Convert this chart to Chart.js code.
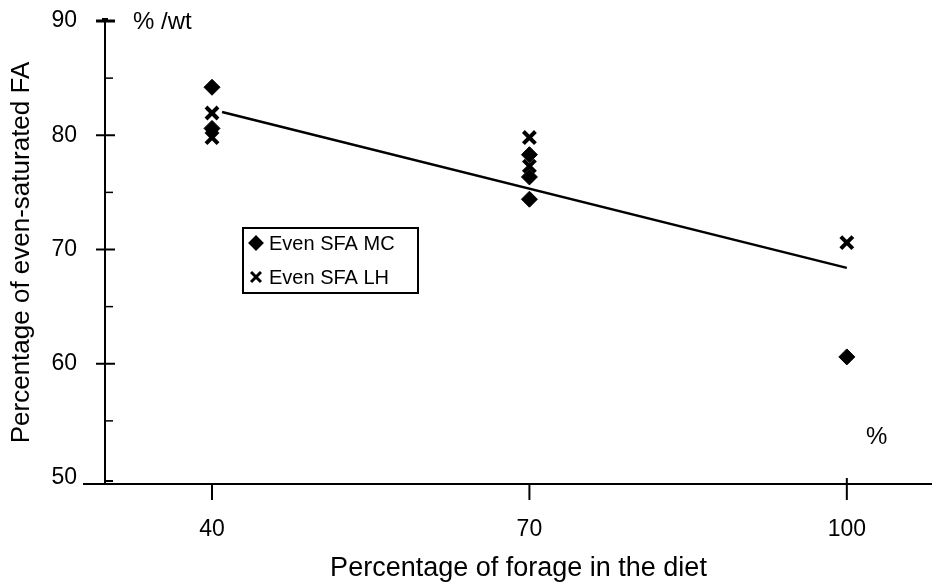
<!DOCTYPE html>
<html><head><meta charset="utf-8">
<script src="https://cdn.jsdelivr.net/npm/chart.js@4.4.0/dist/chart.umd.min.js"></script>
<style>html,body{margin:0;padding:0;background:#fff;}#wrap{width:932px;height:585px;}</style>
</head><body><div id="wrap"><canvas id="c" width="932" height="585"></canvas></div>
<script>
// ---- data ----
const xTicks = [40, 70, 100];
const yTicks = [50, 60, 70, 80, 90];
const yMinorTicks = [55, 65, 75, 85];
const mcX = [40, 40, 70, 70, 70, 100];
const mcY = [84.2, 80.6, 78.3, 76.35, 74.4, 60.6];
const lhX = [40, 40, 70, 70, 100];
const lhY = [81.95, 79.8, 79.8, 77.3, 70.6];
const trendX = [40.95, 100];
const trendY = [82.04, 68.39];
const mcLabel = 'Even SFA MC';
const lhLabel = 'Even SFA LH';
const xTitle = 'Percentage of forage in the diet';
const yTitle = 'Percentage of even-saturated FA';
const yUnit = '% /wt';
const xUnit = '%';

const FONT = "'Liberation Sans', Arial, sans-serif";
const pts = (xs, ys) => xs.map((x, i) => ({x: x, y: ys[i]}));

const decor = {
  id: 'decor',
  afterDraw(chart) {
    const ctx = chart.ctx, ca = chart.chartArea, xs = chart.scales.x, ys = chart.scales.y;
    const line = (x1, y1, x2, y2, w) => {
      ctx.beginPath(); ctx.lineWidth = w || 2; ctx.moveTo(x1, y1); ctx.lineTo(x2, y2); ctx.stroke();
    };
    ctx.save();
    ctx.strokeStyle = '#000'; ctx.fillStyle = '#000';
    // x axis extends left of the y axis
    line(83, ca.bottom, ca.left, ca.bottom);
    // y ticks
    yTicks.forEach(v => {
      const y = ys.getPixelForValue(v);
      if (v === 50) { line(ca.left, ca.bottom - 3, ca.left + 8, ca.bottom - 3); }
      else if (v === 90) { line(ca.left - 9, y, ca.left + 10, y, 3); ctx.fillRect(ca.left - 3, y - 3, 6, 4); }
      else { line(ca.left - 9, y, ca.left + 10, y); }
    });
    yMinorTicks.forEach(v => {
      const y = ys.getPixelForValue(v);
      line(ca.left, y, ca.left + 8, y, 1.5);
    });
    // x ticks
    xTicks.forEach(v => {
      const x = xs.getPixelForValue(v);
      if (v === 100) line(x, ca.bottom - 6, x, ca.bottom + 16);
      else line(x, ca.bottom, x, ca.bottom + 16);
    });
    // legend
    ctx.lineWidth = 2;
    ctx.strokeRect(243, 228, 175, 65);
    Chart.helpers.drawPoint(ctx, {pointStyle: 'rectRot', radius: 6.5, borderWidth: 1}, 256, 243);
    ctx.lineWidth = 3;
    Chart.helpers.drawPoint(ctx, {pointStyle: 'crossRot', radius: 7, borderWidth: 3}, 256, 277);
    ctx.font = '20px ' + FONT;
    ctx.textAlign = 'left'; ctx.textBaseline = 'middle';
    ctx.fillText(mcLabel, 269, 244);
    ctx.fillText(lhLabel, 269, 278);
    // unit labels
    ctx.font = '24px ' + FONT;
    ctx.fillText(yUnit, 133, 22);
    ctx.fillText(xUnit, 866, 437);
    ctx.restore();
  }
};

new Chart(document.getElementById('c'), {
  type: 'scatter',
  data: {
    datasets: [
      {type: 'line', label: 'trend', data: pts(trendX, trendY), borderColor: '#000', borderWidth: 2.5,
       pointRadius: 0, fill: false, order: 0},
      {label: lhLabel, data: pts(lhX, lhY), pointStyle: 'crossRot', pointRadius: 8.5,
       borderColor: '#000', backgroundColor: '#000', borderWidth: 4, order: 1},
      {label: mcLabel, data: pts(mcX, mcY), pointStyle: 'rectRot', pointRadius: 8,
       borderColor: '#000', backgroundColor: '#000', borderWidth: 1, order: 2}
    ]
  },
  options: {
    responsive: false,
    animation: false,
    devicePixelRatio: 1,
    layout: {autoPadding: false, padding: {top: 21, left: 0, right: 0, bottom: 0}},
    plugins: {legend: {display: false}, tooltip: {enabled: false}},
    scales: {
      x: {
        type: 'linear', min: 29.887, max: 108.05,
        afterBuildTicks: s => { s.ticks = xTicks.map(v => ({value: v})); },
        afterFit: s => { s.height = 101; s.paddingLeft = 0; s.paddingRight = 0; },
        grid: {display: true, drawOnChartArea: false, drawTicks: true, tickLength: 32, color: 'rgba(0,0,0,0)'},
        border: {display: true, color: '#000', width: 2},
        ticks: {color: '#000', font: {family: FONT, size: 23}, padding: 0, maxRotation: 0, autoSkip: false},
        title: {display: true, text: xTitle, color: '#000', font: {family: FONT, size: 27}, padding: {top: 0, bottom: 0}}
      },
      y: {
        type: 'linear', min: 49.475, max: 90,
        afterBuildTicks: s => { s.ticks = yTicks.map(v => ({value: v})); },
        afterFit: s => { s.width = 105; s.paddingTop = 0; s.paddingBottom = 0; },
        grid: {display: true, drawOnChartArea: false, drawTicks: true, tickLength: 28, color: 'rgba(0,0,0,0)'},
        border: {display: true, color: '#000', width: 2},
        ticks: {color: '#000', font: {family: FONT, size: 23}, padding: 0},
        title: {display: true, text: yTitle, color: '#000', font: {family: FONT, size: 26}, padding: {top: 6, bottom: 0}}
      }
    }
  },
  plugins: [decor]
});
</script></body></html>
